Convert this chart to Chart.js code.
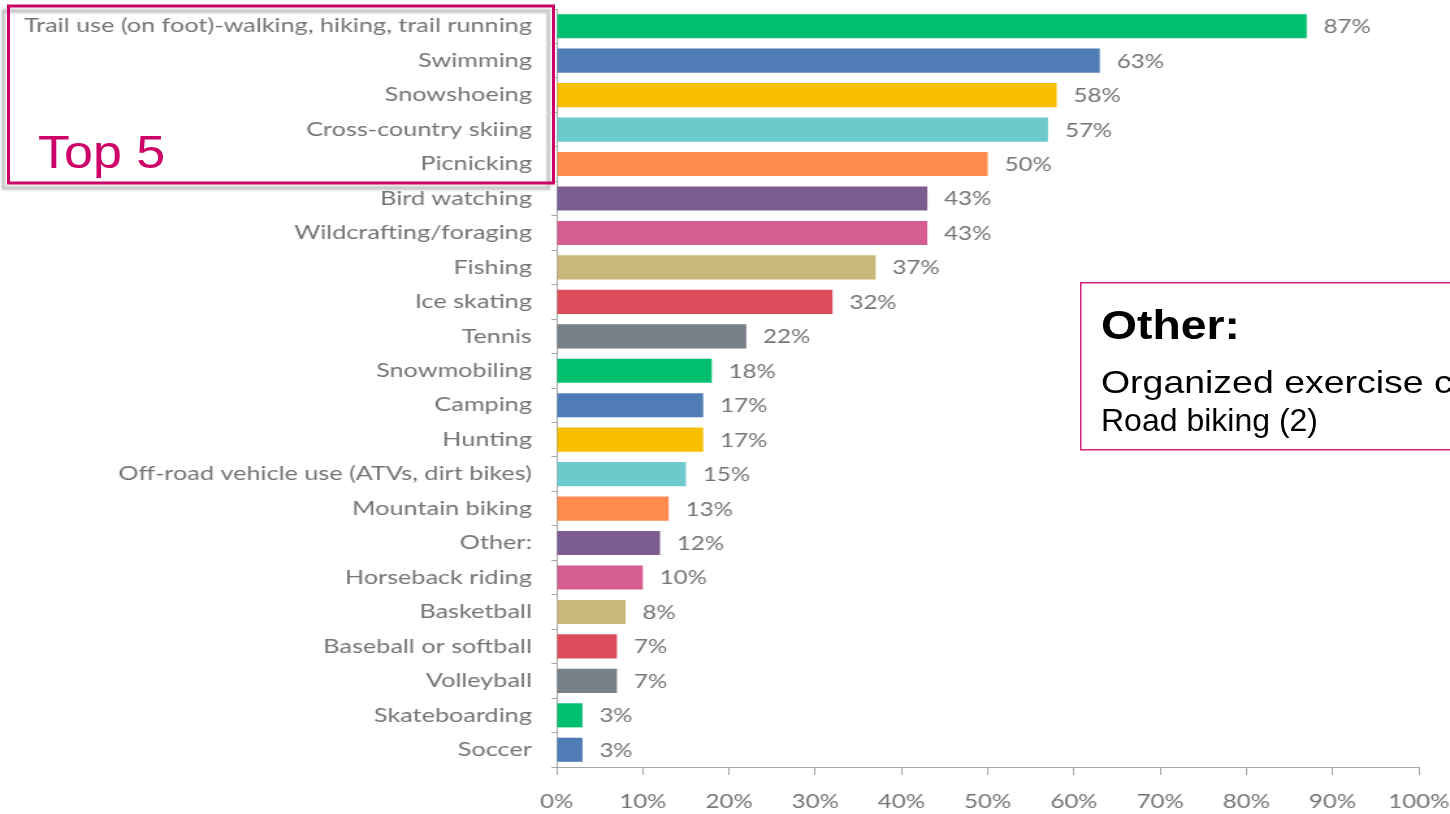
<!DOCTYPE html>
<html>
<head>
<meta charset="utf-8">
<script src="https://cdn.jsdelivr.net/npm/chart.js@4.4.1/dist/chart.umd.min.js"></script>
<style>
  html, body { margin: 0; padding: 0; background: #ffffff; overflow: hidden; }
  #wrap { position: relative; width: 1450px; height: 814px; }
  #c { position: absolute; left: 0; top: 0; }
  #notes { position: absolute; left: 0; top: 0; pointer-events: none; }
</style>
</head>
<body>
<div id="wrap">
  <!-- chart is laid out on a 4:3-width canvas and shown widened to 16:9 -->
  <canvas id="c" width="1115" height="814" style="width:1450px;height:814px;"></canvas>
  <canvas id="notes" width="1450" height="814"></canvas>
</div>
<script>
// Outdoor activities, share of respondents (%)
const activities = [
  'Trail use (on foot)-walking, hiking, trail running',
  'Swimming',
  'Snowshoeing',
  'Cross-country skiing',
  'Picnicking',
  'Bird watching',
  'Wildcrafting/foraging',
  'Fishing',
  'Ice skating',
  'Tennis',
  'Snowmobiling',
  'Camping',
  'Hunting',
  'Off-road vehicle use (ATVs, dirt bikes)',
  'Mountain biking',
  'Other:',
  'Horseback riding',
  'Basketball',
  'Baseball or softball',
  'Volleyball',
  'Skateboarding',
  'Soccer'
];
const percentages = [87, 63, 58, 57, 50, 43, 43, 37, 32, 22, 18, 17, 17, 15, 13, 12, 10, 8, 7, 7, 3, 3];
const xTicks = [0, 10, 20, 30, 40, 50, 60, 70, 80, 90, 100];
const otherNote = ['Organized exercise classes (2)', 'Road biking (2)'];

const palette = ['#00BF6F', '#4F7CB5', '#F8BE00', '#6DC9CB', '#FF8B4F',
                 '#7B5C8E', '#D55D8F', '#C9B87A', '#DD4C5D', '#787F86'];
const barColors = activities.map((_, i) => palette[i % palette.length]);

const GRAY = '#747474';
const AXIS = '#A6A6A6';

// Value labels to the right of each bar
const valueLabels = {
  id: 'valueLabels',
  afterDatasetsDraw(chart) {
    const ctx = chart.ctx;
    const meta = chart.getDatasetMeta(0);
    ctx.save();
    ctx.font = '18.5px Lato';
    ctx.fillStyle = GRAY;
    ctx.textAlign = 'left';
    ctx.textBaseline = 'middle';
    meta.data.forEach((bar, i) => {
      ctx.fillText(percentages[i] + '%', bar.x + 13, bar.y + 1);
    });
    ctx.restore();
  }
};

new Chart(document.getElementById('c'), {
  type: 'bar',
  data: {
    labels: activities,
    datasets: [{
      data: percentages,
      backgroundColor: barColors,
      borderWidth: 0,
      categoryPercentage: 1.0,
      barPercentage: 0.7
    }]
  },
  options: {
    indexAxis: 'y',
    responsive: false,
    animation: false,
    devicePixelRatio: 1,
    layout: { padding: { top: 9, right: 24, left: 0, bottom: 0 } },
    plugins: {
      legend: { display: false },
      tooltip: { enabled: false }
    },
    scales: {
      x: {
        min: 0,
        max: 100,
        afterBuildTicks(scale) {
          scale.ticks = xTicks.map(v => ({ value: v }));
        },
        afterFit(scale) {
          scale.height = 47;
          scale.paddingLeft = 0;
          scale.paddingRight = 0;
        },
        grid: {
          drawOnChartArea: false,
          drawTicks: true,
          tickLength: 8,
          color: AXIS
        },
        border: { color: AXIS, width: 1 },
        ticks: {
          color: GRAY,
          font: { family: 'Lato', size: 18.5 },
          padding: 16,
          maxRotation: 0,
          callback: v => v + '%'
        }
      },
      y: {
        afterFit(scale) {
          scale.width = 428;
          scale.paddingTop = 0;
          scale.paddingBottom = 0;
        },
        grid: {
          drawOnChartArea: false,
          drawTicks: true,
          tickLength: 4,
          offset: true,
          color: AXIS
        },
        border: { color: AXIS, width: 1 },
        ticks: {
          color: GRAY,
          font: { family: 'Lato', size: 19.4 },
          padding: 15,
          autoSkip: false
        }
      }
    }
  },
  plugins: [valueLabels]
});

// Callouts: "Top 5" frame around the first five rows and the "Other:" note
(function drawNotes() {
  const ctx = document.getElementById('notes').getContext('2d');
  const MAGENTA = '#CC0066';

  // soft frame shadow
  ctx.save();
  ctx.strokeStyle = 'rgba(185,185,185,0.8)';
  ctx.lineWidth = 4;
  ctx.filter = 'blur(0.8px)';
  ctx.strokeRect(3.5, 11, 545, 177);
  ctx.restore();

  ctx.save();
  ctx.strokeStyle = MAGENTA;
  ctx.lineWidth = 3;
  ctx.strokeRect(8.5, 6, 545, 177);
  ctx.restore();

  ctx.save();
  ctx.fillStyle = MAGENTA;
  ctx.font = '46px "Liberation Sans", Arial, sans-serif';
  ctx.textBaseline = 'alphabetic';
  ctx.translate(38, 168);
  ctx.scale(1.13, 1);
  ctx.fillText('Top 5', 0, 0);
  ctx.restore();

  // Other note
  ctx.save();
  ctx.fillStyle = '#FFFFFF';
  ctx.fillRect(1080, 282, 400, 168);
  ctx.strokeStyle = '#D4237A';
  ctx.lineWidth = 1.5;
  ctx.strokeRect(1080.75, 282.75, 400, 167);
  ctx.fillStyle = '#000000';
  ctx.textBaseline = 'alphabetic';

  ctx.save();
  ctx.font = 'bold 41px "Liberation Sans", Arial, sans-serif';
  ctx.translate(1101, 339);
  ctx.scale(1.13, 1);
  ctx.fillText('Other:', 0, 0);
  ctx.restore();

  ctx.font = '32px "Liberation Sans", Arial, sans-serif';
  ctx.save();
  ctx.translate(1101, 393);
  ctx.scale(1.17, 1);
  ctx.fillText(otherNote[0], 0, 0);
  ctx.restore();
  ctx.fillText(otherNote[1], 1101, 431);
  ctx.restore();
})();
</script>
</body>
</html>
